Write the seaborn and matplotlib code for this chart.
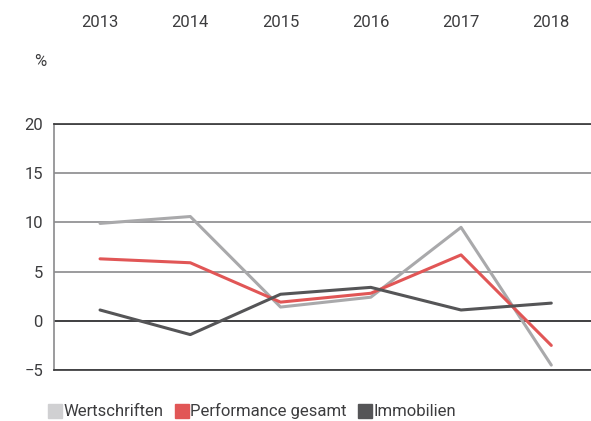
import pandas as pd
import matplotlib
matplotlib.use('Agg')
import matplotlib.pyplot as plt
import seaborn as sns
from matplotlib.lines import Line2D

# Daten
jahre = [2013, 2014, 2015, 2016, 2017, 2018]
wertschriften = [9.9, 10.6, 1.4, 2.4, 9.5, -4.5]
performance = [6.3, 5.9, 1.9, 2.8, 6.7, -2.5]
immobilien = [1.1, -1.4, 2.7, 3.4, 1.1, 1.8]

serien = ['Wertschriften', 'Performance gesamt', 'Immobilien']
linienfarben = {'Wertschriften': '#a9a9ab', 'Performance gesamt': '#e15656', 'Immobilien': '#555557'}
legendenfarben = ['#d0d0d2', '#e15656', '#555557']
y_ticks = [-5, 0, 5, 10, 15, 20]

df = pd.DataFrame({
    'Jahr': jahre * 3,
    'Wert': wertschriften + performance + immobilien,
    'Serie': [s for s in serien for _ in jahre],
})

sns.set_style('white')
plt.rcParams['font.family'] = ['Roboto', 'DejaVu Sans']
textfarbe = '#3c3c3e'
gewicht = 'normal'

fig = plt.figure(figsize=(5.91, 4.21), dpi=100)
ax = fig.add_axes([0.0914, 0.1211, 0.9086, 0.5843])

sns.lineplot(data=df, x='Jahr', y='Wert', hue='Serie', palette=linienfarben,
             hue_order=serien, linewidth=2.2, ax=ax, legend=False, zorder=3)

ax.set_xlim(2012.49, 2018.44)
ax.set_ylim(-5, 20)
ax.set_yticks(y_ticks)
ax.set_yticklabels(['\u22125', '0', '5', '10', '15', '20'])
ax.set_xticks(jahre)
ax.set_xticklabels([str(j) for j in jahre])
ax.xaxis.tick_top()
ax.tick_params(axis='x', length=0, pad=68, labelsize=12, colors=textfarbe)
ax.tick_params(axis='y', length=0, pad=8, labelsize=12, colors=textfarbe)
for lbl in ax.get_xticklabels() + ax.get_yticklabels():
    lbl.set_fontweight(gewicht)
ax.set_xlabel('')
ax.set_ylabel('')

# Gitterlinien
ax.yaxis.grid(True, color='#8a8a8c', linewidth=1.2)
ax.set_axisbelow(True)
ax.axhline(0, color='#333335', linewidth=1.2, zorder=2)
for s in ['top', 'bottom']:
    ax.spines[s].set_color('#333335')
    ax.spines[s].set_linewidth(1.2)
ax.spines['left'].set_color('#8a8a8c')
ax.spines['left'].set_linewidth(1.2)
ax.spines['right'].set_visible(False)

fig.text(0.068, 0.855, '%', fontsize=12, color=textfarbe, fontweight=gewicht, ha='center', va='center')

handles = [Line2D([0], [0], marker='s', linestyle='', markersize=10, color=c) for c in legendenfarben]
leg = fig.legend(handles, serien, loc='lower left', bbox_to_anchor=(0.066, -0.02), ncol=3,
                 frameon=False, fontsize=12, handlelength=0.7, handletextpad=0.15,
                 columnspacing=0.75, borderaxespad=0.2)
for t in leg.get_texts():
    t.set_color(textfarbe)
    t.set_fontweight(gewicht)

fig.savefig('out.png', dpi=100)
